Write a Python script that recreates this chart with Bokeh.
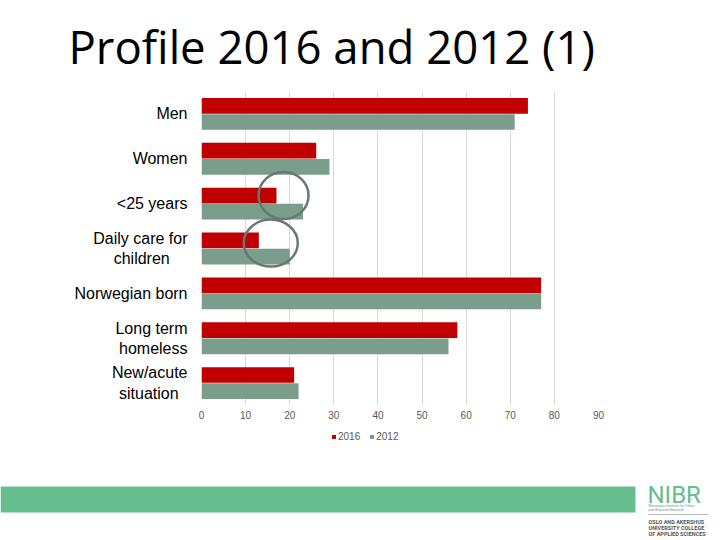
import numpy as np
from bokeh.plotting import figure
from bokeh.layouts import column
from bokeh.models import Range1d, FixedTicker, Label, Legend, LegendItem
from bokeh.embed import file_html
from bokeh.resources import INLINE

# ---- data -------------------------------------------------------------
NB = "\u00a0"
categories = ["Men", "Women", "<25 years", "Daily care for\nchildren" + NB * 4,
              "Norwegian born", "Long term\nhomeless", "New/acute\nsituation" + NB * 2]
values_2016 = [74, 26, 17, 13, 77, 58, 21]
values_2012 = [71, 29, 23, 20, 77, 56, 22]
series_names = ["2016", "2012"]
x_ticks = [0, 10, 20, 30, 40, 50, 60, 70, 80, 90]

# highlight circles drawn on the slide (category position, value position)
highlight_cat = [3, 4]
highlight_x = [18.6, 15.7]

title_text = "Profile 2016 and 2012 (1)"
logo_name = "NIBR"
logo_sub = ["Norwegian Institute for Urban", "and Regional Research"]
logo_college = ["OSLO AND AKERSHUS", "UNIVERSITY COLLEGE", "OF APPLIED SCIENCES"]

# ---- styling ----------------------------------------------------------
RED = "#c00000"
GREY_GREEN = "#7a9e8b"
BAND = "#66bd8e"
LABEL_FONT = "Liberation Sans"
W = 720


def blank_fig(h):
    f = figure(width=W, height=h, x_range=Range1d(0, W), y_range=Range1d(h, 0),
               output_backend="svg", toolbar_location=None,
               x_axis_type=None, y_axis_type=None, frame_align=False,
               min_border_left=0, min_border_right=0,
               min_border_top=0, min_border_bottom=0)
    f.outline_line_color = None
    f.grid.visible = False
    f.background_fill_color = "white"
    f.border_fill_color = "white"
    return f


# ---- title strip (page y 0..80) -----------------------------------------
ft = blank_fig(80)
ft.add_layout(Label(x=68, y=45, text=title_text, text_font="Open Sans",
                    text_font_size="45.5px", text_color="#000000",
                    text_baseline="middle"))

# ---- main chart (page y 80..425) ----------------------------------------
pos = np.arange(1, len(categories) + 1)

p = figure(width=W, height=345, x_range=Range1d(0, 90),
           y_range=Range1d(len(categories) + 0.5, 0.5),
           output_backend="svg", toolbar_location=None, frame_align=False,
           min_border_left=201, min_border_right=122,
           min_border_top=11, min_border_bottom=20)
p.outline_line_color = None
p.background_fill_color = "white"
p.border_fill_color = "white"

r16 = p.hbar(y=pos - 0.18, left=0, right=values_2016, height=0.35,
             fill_color=RED, line_color=None)
r12 = p.hbar(y=pos + 0.18, left=0, right=values_2012, height=0.35,
             fill_color=GREY_GREEN, line_color=None)

p.ellipse(x=highlight_x, y=[highlight_cat[0] - 0.18, highlight_cat[1] - 0.12],
          width=[50, 54], height=[47, 47],
          width_units="screen", height_units="screen",
          fill_color=None, line_color="#6a7772", line_width=2.5)

p.ygrid.visible = False
p.xgrid.ticker = FixedTicker(ticks=x_ticks)
p.xgrid.grid_line_color = "#d9d9d9"

xa = p.xaxis[0]
xa.ticker = FixedTicker(ticks=x_ticks)
xa.axis_line_color = None
xa.major_tick_line_color = None
xa.minor_tick_line_color = None
xa.major_tick_out = 0
xa.major_tick_in = 0
xa.minor_tick_out = 0
xa.major_label_text_font = LABEL_FONT
xa.major_label_text_font_size = "10px"
xa.major_label_text_color = "#595959"
xa.major_label_standoff = 5

ya = p.yaxis[0]
ya.ticker = FixedTicker(ticks=[int(v) for v in pos])
ya.major_label_overrides = {int(v): c for v, c in zip(pos, categories)}
ya.axis_line_color = None
ya.major_tick_line_color = None
ya.minor_tick_line_color = None
ya.major_tick_out = 0
ya.major_tick_in = 0
ya.minor_tick_out = 0
ya.major_label_text_font = LABEL_FONT
ya.major_label_text_font_size = "16px"
ya.major_label_text_color = "#000000"
ya.major_label_standoff = 14

# ---- footer strip (page y 425..540): legend, band, logo ------------------
fb = blank_fig(115)
# hidden proxies of the two series, used only for the legend swatches
k16 = fb.hbar(y=pos, left=0, right=values_2016, height=0.35,
              fill_color=RED, line_color=None, visible=False)
k12 = fb.hbar(y=pos, left=0, right=values_2012, height=0.35,
              fill_color=GREY_GREEN, line_color=None, visible=False)
legend = Legend(items=[LegendItem(label=series_names[0], renderers=[k16]),
                       LegendItem(label=series_names[1], renderers=[k12])],
                orientation="horizontal", location=(331, 98),
                glyph_width=5, glyph_height=5, label_standoff=2, spacing=9,
                padding=0, margin=0, label_height=10,
                label_text_font=LABEL_FONT, label_text_font_size="10px",
                label_text_color="#595959", inactive_fill_alpha=0,
                border_line_color=None, background_fill_alpha=0)
fb.add_layout(legend)

fb.quad(left=[0], right=[635], top=[61], bottom=[87], fill_color=BAND,
        line_color=None)
fb.add_layout(Label(x=647, y=69, text=logo_name, text_font="Roboto",
                    text_font_size="24px", text_color=BAND,
                    text_baseline="middle"))
for txt, yy in zip(logo_sub, [80.5, 84]):
    fb.add_layout(Label(x=648, y=yy, text=txt, text_font="Roboto",
                        text_font_size="3.5px", text_color="#7a9a8a",
                        text_baseline="middle"))
fb.quad(left=[648], right=[708], top=[88.5], bottom=[89.5],
        fill_color="#bbbbbb", line_color=None)
for txt, yy in zip(logo_college, [96, 102, 108]):
    fb.add_layout(Label(x=648, y=yy, text=txt, text_font="Roboto",
                        text_font_size="5.5px", text_font_style="bold",
                        text_color="#555555", text_baseline="middle"))

layout = column(ft, p, fb, spacing=0)
open("out.html", "w").write(file_html(layout, INLINE))
